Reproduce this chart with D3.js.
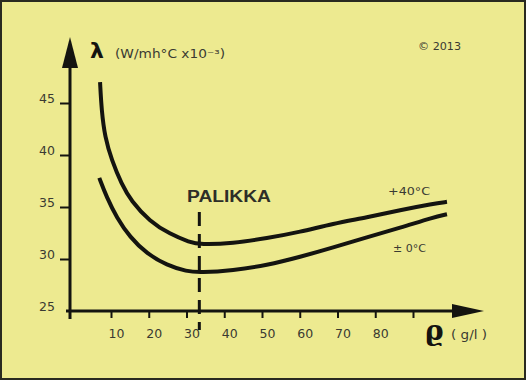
<!DOCTYPE html>
<html><head><meta charset="utf-8">
<script src="https://cdn.jsdelivr.net/npm/d3@7/dist/d3.min.js"></script>
<style>html,body{margin:0;padding:0;background:#edea90;}svg{display:block;}</style>
</head><body>
<script>
// Data
const xTicks = [10, 20, 30, 40, 50, 60, 70, 80, 90];
const xTickLabels = ["10", "20", "30", "40", "50", "60", "70", "80", ""];
const yTicks = [25, 30, 35, 40, 45];
const upperX = [7.1, 7.5, 8.4, 10.2, 12.8, 15.3, 20.3, 25.6, 30.9, 33.6, 42.3, 51.3, 60.1, 68.8, 77.8, 86.6, 95.3, 99.0];
const upperY = [47.0, 44.3, 41.7, 39.5, 37.2, 35.6, 33.6, 32.4, 31.6, 31.4, 31.5, 32.0, 32.6, 33.4, 34.0, 34.7, 35.3, 35.5];
const lowerX = [6.9, 8.9, 11.5, 15.0, 19.5, 24.8, 30.1, 33.6, 42.3, 51.3, 60.1, 68.8, 77.8, 86.6, 95.3, 99.0];
const lowerY = [37.8, 35.9, 34.0, 32.1, 30.5, 29.4, 28.8, 28.7, 28.9, 29.4, 30.2, 31.1, 32.1, 33.0, 34.0, 34.3];
const seriesLabels = ["+40°C", "± 0°C"];
const palikkaX = 33.4;

const W = 526, H = 380;
const svg = d3.select("body").append("svg").attr("width", W).attr("height", H);
svg.append("rect").attr("x", 0).attr("y", 0).attr("width", W).attr("height", H).attr("fill", "#edea90");
svg.append("rect").attr("x", 1).attr("y", 1).attr("width", W - 2).attr("height", H - 2)
  .attr("fill", "none").attr("stroke", "#2a2a20").attr("stroke-width", 2);

const x = d3.scaleLinear().domain([0, 100]).range([73.25, 450.75]);
const y = d3.scaleLinear().domain([25, 45]).range([311, 103]);

const ink = "#141410";
const font = "DejaVu Sans, Liberation Sans, sans-serif";
const textStyle = s => s.attr("fill", "#3a3a32").attr("font-family", font);

// axes lines with arrows
const ax0 = 70, ay0 = 311;
svg.append("line").attr("x1", ax0).attr("x2", ax0).attr("y1", 319).attr("y2", 60)
  .attr("stroke", ink).attr("stroke-width", 3);
svg.append("path").attr("d", `M${ax0},37 L${ax0 - 8},68 L${ax0 + 8},68 Z`).attr("fill", ink);
svg.append("line").attr("x1", 66).attr("x2", 460).attr("y1", ay0).attr("y2", ay0)
  .attr("stroke", ink).attr("stroke-width", 3);
svg.append("path").attr("d", `M484,${ay0} L452,${ay0 - 7} L452,${ay0 + 7} Z`).attr("fill", ink);

// y axis
const gy = svg.append("g").attr("transform", `translate(${ax0},0)`)
  .call(d3.axisLeft(y).tickValues(yTicks).tickSize(10).tickFormat(d3.format("d")));
gy.select(".domain").remove();
gy.selectAll(".tick line").attr("stroke", ink).attr("stroke-width", 2);
gy.selectAll(".tick text").attr("x", -15).attr("dy", "-0.05em").attr("font-size", 12.5)
  .call(textStyle);
gy.selectAll(".tick").filter(d => d === 25).select("line").remove();

// x axis
const gx = svg.append("g").attr("transform", `translate(0,${ay0})`)
  .call(d3.axisBottom(x).tickValues(xTicks).tickSize(7).tickFormat((d, i) => xTickLabels[i]));
gx.select(".domain").remove();
gx.selectAll(".tick line").attr("stroke", ink).attr("stroke-width", 2);
gx.selectAll(".tick text").attr("y", 18).attr("dx", 5).attr("font-size", 12.5)
  .call(textStyle);

// PALIKKA dashed line
svg.append("line").attr("x1", x(palikkaX)).attr("x2", x(palikkaX)).attr("y1", 212).attr("y2", 330)
  .attr("stroke", ink).attr("stroke-width", 3).attr("stroke-dasharray", "14,8");
svg.append("text").attr("x", 187).attr("y", 202).attr("font-size", 16).attr("font-weight", "bold")
  .attr("textLength", 84).attr("lengthAdjust", "spacingAndGlyphs")
  .attr("font-family", "Liberation Sans, Arial, sans-serif").attr("fill", "#2e2e28").text("PALIKKA");

// curves
const line = d3.line().x(d => x(d[0])).y(d => y(d[1])).curve(d3.curveBasis);
svg.append("path").datum(upperX.map((v, i) => [v, upperY[i]])).attr("d", line)
  .attr("fill", "none").attr("stroke", ink).attr("stroke-width", 4);
svg.append("path").datum(lowerX.map((v, i) => [v, lowerY[i]])).attr("d", line)
  .attr("fill", "none").attr("stroke", ink).attr("stroke-width", 4);

svg.append("text").attr("x", 388).attr("y", 195).attr("font-size", 10.5)
  .attr("textLength", 42).attr("lengthAdjust", "spacingAndGlyphs").call(textStyle).text(seriesLabels[0]);
svg.append("text").attr("x", 393).attr("y", 252).attr("font-size", 10.5)
  .attr("textLength", 33).attr("lengthAdjust", "spacingAndGlyphs").call(textStyle).text(seriesLabels[1]);

// axis titles
svg.append("text").attr("x", 90).attr("y", 58).attr("font-size", 22).attr("font-weight", "bold")
  .attr("font-family", font).attr("fill", ink).text("λ");
svg.append("text").attr("x", 115).attr("y", 58).attr("font-size", 11.5)
  .attr("textLength", 110).attr("lengthAdjust", "spacingAndGlyphs").call(textStyle)
  .text("(W/mh°C x10⁻³)");
svg.append("text").attr("x", 418).attr("y", 50).attr("font-size", 10)
  .attr("textLength", 43).attr("lengthAdjust", "spacingAndGlyphs").call(textStyle).text("© 2013");

svg.append("text").attr("x", 425).attr("y", 340).attr("font-size", 28).attr("font-weight", "bold")
  .attr("font-family", "DejaVu Serif, serif").attr("fill", ink).text("ϱ");
svg.append("text").attr("x", 451).attr("y", 339).attr("font-size", 11.5)
  .attr("textLength", 36).attr("lengthAdjust", "spacingAndGlyphs").call(textStyle).text("( g/l )");
</script>
</body></html>
